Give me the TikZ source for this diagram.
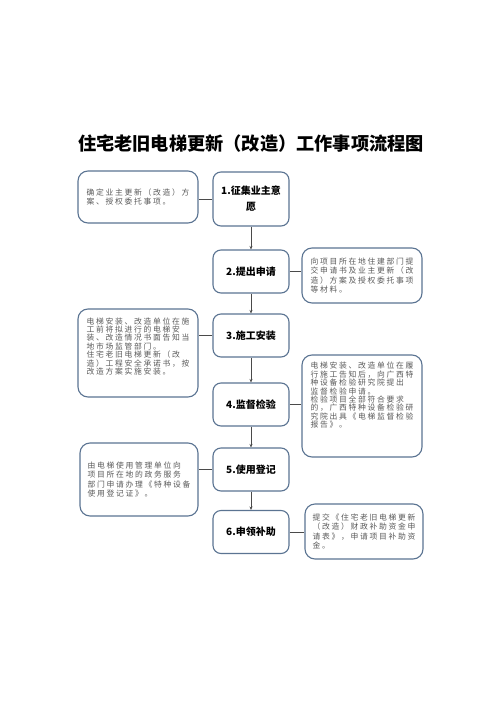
\documentclass[tikz,border=0pt]{standalone}
\usepackage{fontspec}
\usetikzlibrary{arrows.meta}
\newfontfamily\cjk{Noto Sans CJK SC}
\newfontfamily\cjkwide[LetterSpace=22]{Noto Sans CJK SC}
\newcommand{\sidetext}{\cjkwide\fontsize{7.8}{9.4}\selectfont}
\newcommand{\densetext}{\cjkwide\fontsize{7.8}{8.4}\selectfont}
\definecolor{boxblue}{HTML}{5B7492}
\definecolor{notegray}{HTML}{5A5A5A}
\definecolor{linegray}{HTML}{4A4A4A}
\tikzset{
  stepbox/.style={draw=boxblue, line width=1.1pt, rounded corners=8pt, fill=white,
    minimum width=76pt, minimum height=43pt, align=center, inner sep=2pt,
    font=\cjk\bfseries\fontsize{10}{16}\selectfont},
  notebox/.style={draw=boxblue, line width=1.1pt, rounded corners=10pt, fill=white,
    minimum width=120pt, align=left, text=notegray, font=\sidetext},
  flow/.style={draw=linegray, line width=0.7pt, -{Stealth[length=3.5pt,width=3pt]}},
  link/.style={draw=linegray, line width=0.9pt},
}
\begin{document}
\begin{tikzpicture}[x=1pt, y=-1pt]
    \useasboundingbox[fill=white] (0,0) rectangle (500,708);

    % Title
    \node (title) at (251,144) {\cjk\bfseries\fontsize{18.2}{22}\selectfont 住宅老旧电梯更新（改造）工作事项流程图};

    % Steps
    \node[stepbox, minimum height=54pt] (m1) at (251,199) {1.征集业主意\\愿};
    \foreach \n/\y/\txt in {2/271.5/提出申请, 3/335.5/施工安装, 4/404.5/监督检验,
                            5/469.5/使用登记, 6/532/申领补助} {
        \node[stepbox] (m\n) at (251,\y) {\n.\txt};
    }

    % Notes
    \node[notebox, minimum height=52pt] (l1) at (138,197)
        {确定业主更新（改造）方\\案、授权委托事项。};
    \node[notebox, minimum height=55pt] (r2) at (362,275.5)
        {向项目所在地住建部门提\\交申请书及业主更新（改\\造）方案及授权委托事项\\等材料。};
    \node[notebox, minimum height=88pt, font=\densetext, text depth=14pt] (l3) at (138,353)
        {电梯安装、改造单位在施\\工前将拟进行的电梯安\\装、改造情况书面告知当\\地市场监管部门。\\住宅老旧电梯更新（改\\造）工程安全承诺书，按\\改造方案实施安装。};
    \node[notebox, minimum height=102pt, font=\densetext, text depth=22pt] (r4) at (362,406)
        {电梯安装、改造单位在履\\行施工告知后，向广西特\\种设备检验研究院提出\\监督检验申请。\\检验项目全部符合要求\\的，广西特种设备检验研\\究院出具《电梯监督检验\\报告》。};
    \node[notebox, minimum width=118pt, minimum height=73pt] (l5) at (139,479.5)
        {由电梯使用管理单位向\\项目所在地的政务服务\\部门申请办理《特种设备\\使用登记证》。};
    \node[notebox, minimum width=118pt, minimum height=55pt] (r6) at (364,531.5)
        {提交《住宅老旧电梯更新\\（改造）财政补助资金申\\请表》，申请项目补助资\\金。};

    % Flow between steps
    \foreach \a/\b in {m1/m2, m2/m3, m3/m4, m4/m5, m5/m6} {
        \draw[flow] (\a) -- (\b);
    }

    % Notes to steps
    \foreach \s/\t in {m1/l1, m3/l3, m5/l5} {
        \draw[link] (\s.west) -- (\s.west -| \t.east);
    }
    \foreach \s/\t in {m2/r2, m4/r4, m6/r6} {
        \draw[link] (\s.east) -- (\s.east -| \t.west);
    }
\end{tikzpicture}
\end{document}
